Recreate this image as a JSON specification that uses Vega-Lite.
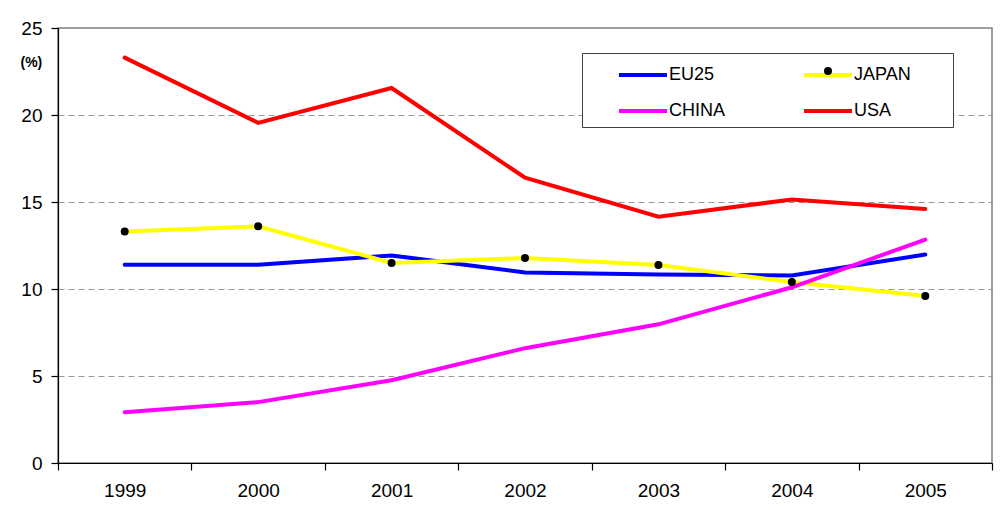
{
  "$schema": "https://vega.github.io/schema/vega-lite/v6.json",
  "width": 934,
  "height": 435,
  "autosize": {"type": "none"},
  "padding": {"left": 58, "top": 28, "right": 16, "bottom": 65},
  "background": "white",
  "config": {
    "font": "Liberation Sans",
    "view": {"stroke": "#808080", "strokeWidth": 1.5},
    "axis": {"labelColor": "black", "domainColor": "black", "tickColor": "black", "labelFont": "Liberation Sans"}
  },
  "data": {
    "values": [
      {"year": "1999", "series": "EU25", "value": 11.4},
      {"year": "2000", "series": "EU25", "value": 11.4},
      {"year": "2001", "series": "EU25", "value": 11.93},
      {"year": "2002", "series": "EU25", "value": 10.95},
      {"year": "2003", "series": "EU25", "value": 10.84},
      {"year": "2004", "series": "EU25", "value": 10.78},
      {"year": "2005", "series": "EU25", "value": 11.98},
      {"year": "1999", "series": "JAPAN", "value": 13.3},
      {"year": "2000", "series": "JAPAN", "value": 13.6},
      {"year": "2001", "series": "JAPAN", "value": 11.5},
      {"year": "2002", "series": "JAPAN", "value": 11.78},
      {"year": "2003", "series": "JAPAN", "value": 11.38},
      {"year": "2004", "series": "JAPAN", "value": 10.4},
      {"year": "2005", "series": "JAPAN", "value": 9.6},
      {"year": "1999", "series": "CHINA", "value": 2.92},
      {"year": "2000", "series": "CHINA", "value": 3.5},
      {"year": "2001", "series": "CHINA", "value": 4.76},
      {"year": "2002", "series": "CHINA", "value": 6.6},
      {"year": "2003", "series": "CHINA", "value": 7.97},
      {"year": "2004", "series": "CHINA", "value": 10.1},
      {"year": "2005", "series": "CHINA", "value": 12.84},
      {"year": "1999", "series": "USA", "value": 23.3},
      {"year": "2000", "series": "USA", "value": 19.55},
      {"year": "2001", "series": "USA", "value": 21.55},
      {"year": "2002", "series": "USA", "value": 16.4},
      {"year": "2003", "series": "USA", "value": 14.16},
      {"year": "2004", "series": "USA", "value": 15.14},
      {"year": "2005", "series": "USA", "value": 14.6}
    ]
  },
  "encoding": {
    "x": {
      "field": "year", "type": "nominal",
      "scale": {"type": "band", "paddingInner": 0, "paddingOuter": 0},
      "axis": {"title": null, "labelAngle": 0, "labelFontSize": 19, "labelPadding": 11, "tickSize": 7, "tickBand": "extent", "domainWidth": 1.2, "tickWidth": 1.2}
    },
    "y": {
      "field": "value", "type": "quantitative",
      "scale": {"domain": [0, 25], "nice": false},
      "axis": {
        "values": [0, 5, 10, 15, 20, 25], "labelFontSize": 19, "labelPadding": 9, "tickSize": 7,
        "domainWidth": 1.2, "tickWidth": 1.2,
        "grid": true, "gridDash": [6, 4], "gridColor": "#999999", "gridWidth": 1,
        "title": "(%)", "titleAngle": 0, "titleX": -38, "titleY": 34, "titleAlign": "left", "titleBaseline": "middle",
        "titleFontSize": 14, "titleFontWeight": "bold", "titleColor": "black"
      }
    }
  },
  "layer": [
    {
      "mark": {"type": "line", "strokeWidth": 4, "strokeCap": "round"},
      "encoding": {
        "color": {
          "field": "series", "type": "nominal", "sort": ["EU25", "CHINA", "JAPAN", "USA"],
          "scale": {"domain": ["EU25", "CHINA", "JAPAN", "USA"], "range": ["#0000FF", "#FF00FF", "#FFFF00", "#FF0000"]},
          "legend": {
            "title": null, "orient": "none", "legendX": 524, "legendY": 25,
            "columns": 2, "symbolType": "M1.154,0H4.846", "symbolSize": 676, "symbolStrokeWidth": 4,
            "labelOffset": 50, "labelFontSize": 18, "labelColor": "black",
            "labelExpr": "datum.label === 'JAPAN' ? datum.label + '\u00a0\u00a0\u00a0\u00a0\u00a0\u00a0\u00a0\u200b' : datum.label",
            "padding": 7, "rowPadding": 12, "columnPadding": 48,
            "strokeColor": "#404040", "fillColor": "white"
          }
        }
      }
    },
    {
      "transform": [{"filter": "datum.series === 'JAPAN'"}],
      "mark": {"type": "point", "filled": true, "color": "black", "size": 64, "opacity": 1},
      "encoding": {
        "shape": {
          "field": "series", "type": "nominal",
          "scale": {"range": ["circle"]},
          "legend": {
            "title": null, "orient": "none", "legendX": 766, "legendY": 39, "padding": 0,
            "symbolSize": 64, "symbolFillColor": "black", "symbolStrokeWidth": 0, "symbolOpacity": 1,
            "labelOpacity": 0, "labelFontSize": 6
          }
        }
      }
    }
  ]
}
